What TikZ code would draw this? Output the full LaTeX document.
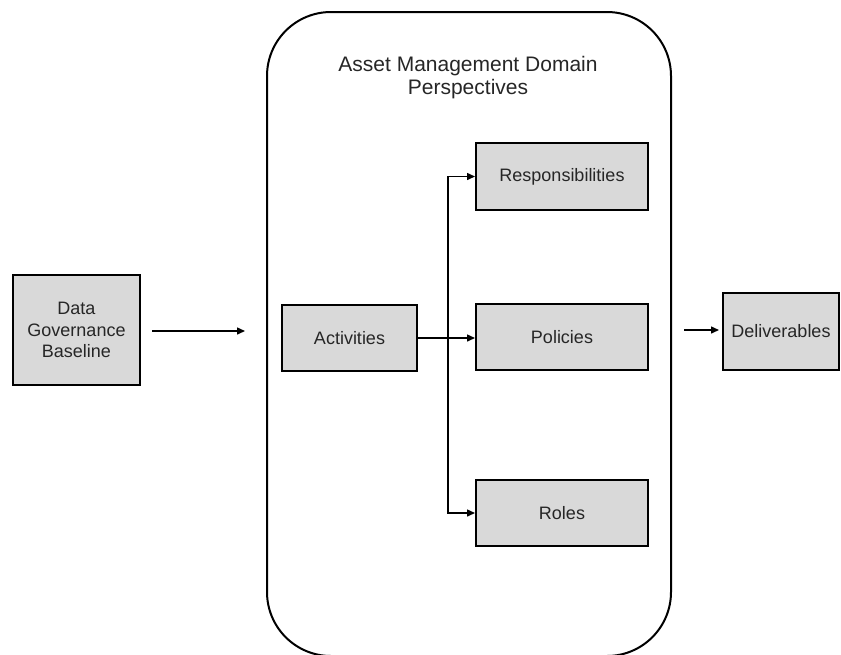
\documentclass[tikz,border=0pt]{standalone}
\usepackage{fontspec}
\setmainfont{Liberation Sans}
\usetikzlibrary{arrows.meta}
\definecolor{boxgray}{RGB}{217,217,217}

\begin{document}
\begin{tikzpicture}[x=1pt,y=-1pt,font=\fontsize{18}{21.5}\selectfont,
	box/.style={draw,line width=2pt,fill=boxgray,text=black!85,align=center,inner sep=0pt},
	flow/.style={-{Triangle[length=8pt,width=7pt]},line width=1.5pt}]
	\useasboundingbox (0,0) rectangle (841,654);
	% Asset Management Domain
	\node[draw,line width=2pt,rounded corners=64pt,minimum width=404pt,minimum height=644pt] (Domain) at (469,334) {};
	\node[align=center,text=black!85,font=\fontsize{21}{23.5}\selectfont] (DomainTitle) at (468,77.5) {Asset Management Domain\\Perspectives};
	
	\node[box,minimum width=127pt,minimum height=110pt] (Baseline) at (76.5,330) {Data\\Governance\\Baseline};
	\node[box,minimum width=135pt,minimum height=66pt] (Activities) at (349.5,338) {Activities};
	\node[box,minimum width=172pt,minimum height=67pt] (Responsibilities) at (562,176.5) {Responsibilities};
	\node[box,minimum width=172pt,minimum height=66pt] (Policies) at (562,337) {Policies};
	\node[box,minimum width=172pt,minimum height=66pt] (Roles) at (562,513) {Roles};
	\node[box,minimum width=116pt,minimum height=77pt] (Deliverables) at (781,331.5) {Deliverables};
	
	\coordinate (InStart) at (152,331);
	\coordinate (InEnd) at (245,331);
	\coordinate (OutStart) at (684,330);
	\coordinate (OutEnd) at (719,330);
	
	\draw[flow] (InStart) -- (InEnd);
	\draw[flow] (OutStart) -- (OutEnd);
	\draw[flow] (Activities.east) -- (Activities.east -| Policies.west);
	\draw[flow] (Activities.east) -- ++(30,0) |- (Responsibilities.west);
	\draw[flow] (Activities.east) -- ++(30,0) |- (Roles.west);
\end{tikzpicture}
\end{document}
